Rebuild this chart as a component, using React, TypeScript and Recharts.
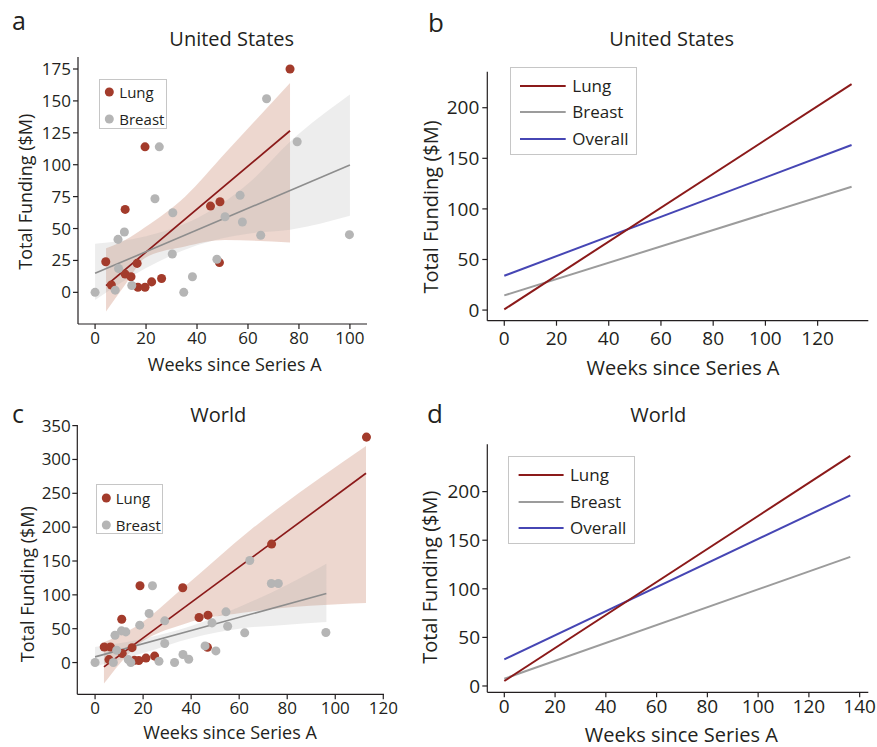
import { ComposedChart, Scatter, Line, Area, XAxis, YAxis, Legend } from "recharts";

const FONT = "'Open Sans', 'DejaVu Sans', sans-serif";
const TEXT = "#231f20";
const AXIS = "#231f20";

const LUNG_DOT = "#a33b2b";
const BREAST_DOT = "#b5b5b5";
const LUNG_FIT = "#8b1a1a";
const BREAST_FIT = "#8d8d8d";
const LUNG_BAND = "#c8826a";
const BREAST_BAND = "#a6a6a6";
const LUNG_MODEL = "#8b1a1a";
const BREAST_MODEL = "#9c9c9c";
const OVERALL_MODEL = "#4646b4";

// ---- panel a: United States, raw deals ----
const usLung = [
  { x: 76.5, y: 175 }, { x: 19.6, y: 114 }, { x: 11.8, y: 65 }, { x: 45.3, y: 67.6 },
  { x: 49, y: 71 }, { x: 4.2, y: 24 }, { x: 16.5, y: 22.7 }, { x: 48.8, y: 23.3 },
  { x: 6.4, y: 5.8 }, { x: 11.8, y: 14.3 }, { x: 14.1, y: 12.2 }, { x: 16.8, y: 4 },
  { x: 19.6, y: 4 }, { x: 22.2, y: 8.2 }, { x: 26.1, y: 10.8 },
];
const usBreast = [
  { x: 67.3, y: 151.7 }, { x: 79.3, y: 118 }, { x: 25.2, y: 114 }, { x: 23.5, y: 73.3 },
  { x: 56.9, y: 76 }, { x: 30.5, y: 62.4 }, { x: 51, y: 59.2 }, { x: 57.8, y: 55.1 },
  { x: 65, y: 44.7 }, { x: 99.8, y: 45.2 }, { x: 11.5, y: 47.3 }, { x: 9, y: 41.5 },
  { x: 30.3, y: 30 }, { x: 47.8, y: 25.9 }, { x: 9.2, y: 18.7 }, { x: 14.4, y: 5.4 },
  { x: 7.9, y: 1.7 }, { x: 0, y: 0 }, { x: 34.8, y: 0 }, { x: 38.2, y: 12.2 },
];
const usLungFit = [{ x: 4.3, y: 5.2 }, { x: 76.5, y: 126.6 }];
const usBreastFit = [{ x: 0, y: 14.9 }, { x: 100, y: 99.7 }];
const usLungBand = [
  { x: 4.3, lo: -15, hi: 34.5 }, { x: 11.8, lo: 6, hi: 41 }, { x: 19.6, lo: 27, hi: 51 },
  { x: 35.3, lo: 36, hi: 75 }, { x: 51, lo: 41, hi: 109 }, { x: 76.5, lo: 39, hi: 164 },
];
const usBreastBand = [
  { x: 0, lo: -6, hi: 38 }, { x: 20, lo: 19, hi: 44 }, { x: 40, lo: 37, hi: 58 },
  { x: 60, lo: 46, hi: 85 }, { x: 76.5, lo: 49, hi: 118 }, { x: 100, lo: 60, hi: 155 },
];

// ---- panel c: World, raw deals ----
const worldLung = [
  { x: 113, y: 333 }, { x: 73.5, y: 175 }, { x: 18.7, y: 113.4 }, { x: 36.5, y: 110.4 },
  { x: 11.1, y: 64 }, { x: 43.3, y: 66.5 }, { x: 47, y: 70 }, { x: 3.8, y: 23 },
  { x: 6.4, y: 23 }, { x: 15.4, y: 22 }, { x: 46.8, y: 22.5 }, { x: 5.8, y: 4.4 },
  { x: 11.3, y: 13.3 }, { x: 16.4, y: 3.2 }, { x: 18.2, y: 3 }, { x: 21.2, y: 6.6 },
  { x: 24.8, y: 9.5 },
];
const worldBreast = [
  { x: 64.4, y: 150.8 }, { x: 73.4, y: 116.8 }, { x: 76.3, y: 116.8 }, { x: 23.9, y: 113.4 },
  { x: 22.5, y: 72.4 }, { x: 54.5, y: 74.9 }, { x: 29, y: 61.6 }, { x: 48.7, y: 58.6 },
  { x: 55.2, y: 53.7 }, { x: 18.6, y: 55.2 }, { x: 11, y: 46.8 }, { x: 12.8, y: 45.3 },
  { x: 8.3, y: 40.4 }, { x: 62.3, y: 43.9 }, { x: 96.1, y: 44.4 }, { x: 29, y: 28.1 },
  { x: 9, y: 18.2 }, { x: 45.8, y: 24.6 }, { x: 50.3, y: 17.2 }, { x: 36.6, y: 11.8 },
  { x: 39, y: 4.9 }, { x: 13.8, y: 4.4 }, { x: 14.9, y: 0 }, { x: 26.6, y: 2 },
  { x: 33.1, y: 0 }, { x: 0, y: 0 }, { x: 7.6, y: 0 },
];
const worldLungFit = [{ x: 3.7, y: -6.4 }, { x: 112.8, y: 279.6 }];
const worldBreastFit = [{ x: 0, y: 8.4 }, { x: 96.3, y: 102 }];
const worldLungBand = [
  { x: 3.7, lo: -31, hi: 30 }, { x: 16.5, lo: 22, hi: 52 }, { x: 37.2, lo: 57, hi: 112 },
  { x: 64.8, lo: 75, hi: 196 }, { x: 112.8, lo: 88, hi: 320 },
];
const worldBreastBand = [
  { x: 0, lo: -6, hi: 23 }, { x: 20, lo: 14, hi: 35 }, { x: 40, lo: 36, hi: 54 },
  { x: 60, lo: 50, hi: 82 }, { x: 80, lo: 56, hi: 115 }, { x: 96.3, lo: 60, hi: 146 },
];

// ---- panels b, d: fitted models ----
const usWeeks = [0, 133];
const usLungModel = [0.7, 223.4];
const usBreastModel = [14.5, 121.9];
const usOverallModel = [33.9, 163.1];

const worldWeeks = [0, 136.3];
const worldLungModel = [5.1, 236.7];
const worldBreastModel = [7.5, 132.8];
const worldOverallModel = [27.4, 196.2];

const LEGEND_ORDER = ["Lung", "Breast", "Overall"];

const toRange = (b: { x: number; lo: number; hi: number }[]) =>
  b.map((d) => ({ x: d.x, range: [d.lo, d.hi] }));

const COLOR_BY_NAME: Record<string, string> = {
  dotLung: LUNG_DOT,
  dotBreast: BREAST_DOT,
  lineLung: LUNG_MODEL,
  lineBreast: BREAST_MODEL,
  lineOverall: OVERALL_MODEL,
};

function LegendBox(props: any) {
  const { payload, box, marker, fontSize } = props;
  const items = (payload || [])
    .filter((p: any) => p.type !== "none")
    .sort((a: any, b: any) => LEGEND_ORDER.indexOf(a.value) - LEGEND_ORDER.indexOf(b.value));
  return (
    <div
      style={{
        position: "relative",
        width: box.w,
        height: box.h,
        border: "1px solid #c6c6c6",
        boxSizing: "border-box",
        background: "#fff",
        fontFamily: FONT,
      }}
    >
      {items.map((it: any, i: number) => {
        const color = COLOR_BY_NAME[marker + it.value] || it.color;
        return (
          <div
            key={it.value}
            style={{ position: "absolute", left: 0, top: box.rows[i] - 12, height: 24, width: "100%" }}
          >
            <svg width={box.w} height={24} style={{ position: "absolute", left: -1, top: 0 }}>
              {marker === "dot" ? (
                <circle cx={box.markX[0]} cy={12} r={4.5} fill={color} />
              ) : (
                <line x1={box.markX[0]} x2={box.markX[1]} y1={12} y2={12} stroke={color} strokeWidth={2} />
              )}
            </svg>
            <span
              style={{
                position: "absolute",
                left: box.textX - 1,
                top: 0,
                lineHeight: "24px",
                fontSize,
                color: TEXT,
                whiteSpace: "nowrap",
              }}
            >
              {it.value}
            </span>
          </div>
        );
      })}
    </div>
  );
}

function Axes(p: any, fontSize: number) {
  const tickStyle = { fill: TEXT, fontSize, fontFamily: FONT };
  return [
    <XAxis
      key="x"
      type="number"
      dataKey="x"
      domain={p.xDomain}
      ticks={p.xTicks}
      allowDataOverflow
      height={30}
      tickSize={5}
      tickMargin={p.xTickMargin}
      axisLine={{ stroke: AXIS, strokeWidth: 1.2 }}
      tickLine={{ stroke: AXIS, strokeWidth: 1.2 }}
      tick={tickStyle}
    />,
    <YAxis
      key="y"
      type="number"
      domain={p.yDomain}
      ticks={p.yTicks}
      allowDataOverflow
      width={p.yAxisWidth}
      tickSize={5}
      tickMargin={p.yTickMargin}
      axisLine={{ stroke: AXIS, strokeWidth: 1.2 }}
      tickLine={{ stroke: AXIS, strokeWidth: 1.2 }}
      tick={tickStyle}
    />,
  ];
}

function ScatterPanel(p: any) {
  return (
    <div style={{ position: "absolute", left: p.left, top: p.top }}>
      <ComposedChart width={p.width} height={p.height} margin={p.margin}>
        {Axes(p, 17)}
        <Area
          data={toRange(p.lungBand)}
          dataKey="range"
          type="monotone"
          stroke="none"
          fill={LUNG_BAND}
          fillOpacity={0.32}
          legendType="none"
          isAnimationActive={false}
        />
        <Area
          data={toRange(p.breastBand)}
          dataKey="range"
          type="monotone"
          stroke="none"
          fill={BREAST_BAND}
          fillOpacity={0.2}
          legendType="none"
          isAnimationActive={false}
        />
        <Line
          data={p.lungFit}
          dataKey="y"
          stroke={LUNG_FIT}
          strokeWidth={1.7}
          dot={false}
          activeDot={false}
          legendType="none"
          isAnimationActive={false}
        />
        <Line
          data={p.breastFit}
          dataKey="y"
          stroke={BREAST_FIT}
          strokeWidth={1.6}
          dot={false}
          activeDot={false}
          legendType="none"
          isAnimationActive={false}
        />
        <Scatter name="Lung" data={p.lung} dataKey="y" fill={LUNG_DOT} legendType="circle" isAnimationActive={false} />
        <Scatter name="Breast" data={p.breast} dataKey="y" fill={BREAST_DOT} legendType="circle" isAnimationActive={false} />
        <Legend
          layout="vertical"
          align="center"
          verticalAlign="middle"
          wrapperStyle={{ left: p.legend.x, top: p.legend.y, width: p.legend.w, height: p.legend.h }}
          content={(lp: any) => <LegendBox payload={lp.payload} box={p.legend} fontSize={15} marker="dot" />}
        />
      </ComposedChart>
    </div>
  );
}

function ModelPanel(p: any) {
  const data = p.weeks.map((w: number, i: number) => ({
    x: w,
    lung: p.lungModel[i],
    breast: p.breastModel[i],
    overall: p.overallModel[i],
  }));
  return (
    <div style={{ position: "absolute", left: p.left, top: p.top }}>
      <ComposedChart width={p.width} height={p.height} margin={p.margin} data={data}>
        {Axes(p, 19)}
        <Line name="Breast" dataKey="breast" stroke={BREAST_MODEL} strokeWidth={2} dot={false} activeDot={false} isAnimationActive={false} />
        <Line name="Overall" dataKey="overall" stroke={OVERALL_MODEL} strokeWidth={2} dot={false} activeDot={false} isAnimationActive={false} />
        <Line name="Lung" dataKey="lung" stroke={LUNG_MODEL} strokeWidth={2} dot={false} activeDot={false} isAnimationActive={false} />
        <Legend
          layout="vertical"
          align="center"
          verticalAlign="middle"
          wrapperStyle={{ left: p.legend.x, top: p.legend.y, width: p.legend.w, height: p.legend.h }}
          content={(lp: any) => <LegendBox payload={lp.payload} box={p.legend} fontSize={17} marker="line" />}
        />
      </ComposedChart>
    </div>
  );
}

export default function App() {
  return (
    <div
      style={{
        position: "absolute",
        left: 0,
        top: 0,
        width: 877,
        height: 747,
        background: "#fff",
        fontFamily: FONT,
        overflow: "hidden",
      }}
    >
      <ScatterPanel
        left={0}
        top={0}
        width={400}
        height={380}
        margin={{ top: 57, right: 33, bottom: 26, left: 0 }}
        yAxisWidth={78}
        xTickMargin={3}
        yTickMargin={2}
        xDomain={[-6.7, 106.7]}
        yDomain={[-24.8, 184.4]}
        xTicks={[0, 20, 40, 60, 80, 100]}
        yTicks={[0, 25, 50, 75, 100, 125, 150, 175]}
        lung={usLung}
        breast={usBreast}
        lungFit={usLungFit}
        breastFit={usBreastFit}
        lungBand={usLungBand}
        breastBand={usBreastBand}
        legend={{ x: 99, y: 79, w: 68, h: 50, rows: [11.7, 39.3], markX: [10.3], textX: 20.3 }}
      />
      <ScatterPanel
        left={0}
        top={380}
        width={400}
        height={367}
        margin={{ top: 45, right: 16, bottom: 22.7, left: 0 }}
        yAxisWidth={77.3}
        xTickMargin={2.4}
        yTickMargin={1.5}
        xDomain={[-7.4, 120.3]}
        yDomain={[-46.9, 350.9]}
        xTicks={[0, 20, 40, 60, 80, 100, 120]}
        yTicks={[0, 50, 100, 150, 200, 250, 300, 350]}
        lung={worldLung}
        breast={worldBreast}
        lungFit={worldLungFit}
        breastFit={worldBreastFit}
        lungBand={worldLungBand}
        breastBand={worldBreastBand}
        legend={{ x: 95.7, y: 104.3, w: 67, h: 50, rows: [12.4, 39.7], markX: [10.3], textX: 20 }}
      />
      <ModelPanel
        left={400}
        top={0}
        width={477}
        height={380}
        margin={{ top: 71.7, right: 8.7, bottom: 29.3, left: 0 }}
        yAxisWidth={87.3}
        xTickMargin={6}
        yTickMargin={3}
        xDomain={[-6.5, 139.4]}
        yDomain={[-10.5, 235.6]}
        xTicks={[0, 20, 40, 60, 80, 100, 120]}
        yTicks={[0, 50, 100, 150, 200]}
        weeks={usWeeks}
        lungModel={usLungModel}
        breastModel={usBreastModel}
        overallModel={usOverallModel}
        legend={{ x: 110, y: 66.7, w: 127, h: 88, rows: [18.3, 44, 71], markX: [10, 55.7], textX: 62.3 }}
      />
      <ModelPanel
        left={400}
        top={380}
        width={477}
        height={367}
        margin={{ top: 64.3, right: 8.7, bottom: 24.7, left: 0 }}
        yAxisWidth={87.3}
        xTickMargin={2.7}
        yTickMargin={2.3}
        xDomain={[-6.7, 143.4]}
        yDomain={[-6.5, 248.7]}
        xTicks={[0, 20, 40, 60, 80, 100, 120, 140]}
        yTicks={[0, 50, 100, 150, 200]}
        weeks={worldWeeks}
        lungModel={worldLungModel}
        breastModel={worldBreastModel}
        overallModel={worldOverallModel}
        legend={{ x: 107.7, y: 76, w: 127, h: 88, rows: [18.3, 44.7, 71], markX: [10.6, 55.6], textX: 62.3 }}
      />
      <svg
        width={877}
        height={747}
        style={{ position: "absolute", left: 0, top: 0, pointerEvents: "none" }}
        fontFamily={FONT}
        fill={TEXT}
      >
        <text x={12} y={30} fontSize={25}>a</text>
        <text x={428} y={31.7} fontSize={26}>b</text>
        <text x={12} y={423.3} fontSize={25}>c</text>
        <text x={427} y={423.3} fontSize={26}>d</text>

        <text x={231.7} y={45.7} fontSize={20} textAnchor="middle">United States</text>
        <text x={671.7} y={45.7} fontSize={20} textAnchor="middle">United States</text>
        <text x={218.3} y={421.7} fontSize={20} textAnchor="middle">World</text>
        <text x={658.3} y={421.7} fontSize={20} textAnchor="middle">World</text>

        <text x={234.7} y={370.7} fontSize={18} textAnchor="middle">Weeks since Series A</text>
        <text x={683} y={375} fontSize={20} textAnchor="middle">Weeks since Series A</text>
        <text x={230} y={739.3} fontSize={18} textAnchor="middle">Weeks since Series A</text>
        <text x={681.3} y={741.5} fontSize={20} textAnchor="middle">Weeks since Series A</text>

        <text x={0} y={0} fontSize={18} textAnchor="middle" transform="translate(32,191.7) rotate(-90)">Total Funding ($M)</text>
        <text x={0} y={0} fontSize={20} textAnchor="middle" transform="translate(438,207) rotate(-90)">Total Funding ($M)</text>
        <text x={0} y={0} fontSize={18} textAnchor="middle" transform="translate(33.5,584.2) rotate(-90)">Total Funding ($M)</text>
        <text x={0} y={0} fontSize={20} textAnchor="middle" transform="translate(437,577.2) rotate(-90)">Total Funding ($M)</text>
      </svg>
    </div>
  );
}
